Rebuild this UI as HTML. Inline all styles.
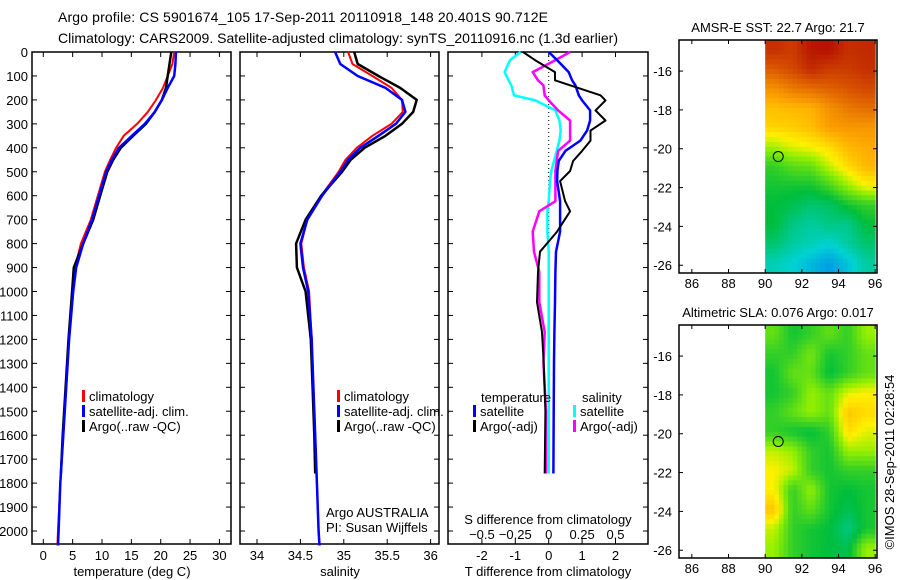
<!DOCTYPE html>
<html><head><meta charset="utf-8"><style>
html,body{margin:0;padding:0;background:#fff;}
svg{display:block;font-family:"Liberation Sans",sans-serif;}
</style></head><body>
<svg id="c" width="900" height="580" xmlns="http://www.w3.org/2000/svg"></svg>
<script>
// ---- data ----
const depths=[0,50,100,150,200,250,300,350,400,450,500,600,700,800,900,1000,1200,1400,1600,1800,2000,2060];
const tempClim=[22.3,22.0,21.2,20.4,19.2,17.8,16.0,13.7,12.4,11.4,10.5,9.3,8.1,6.4,5.4,5.1,4.4,3.9,3.4,2.9,2.5,2.4];
const tempSat=[22.6,22.5,22.3,21.2,20.2,19.0,17.3,15.1,12.9,11.7,10.7,9.5,8.3,6.8,5.6,5.1,4.4,3.9,3.4,2.9,2.6,2.5];
const argoDepths=[0,50,100,150,200,250,300,350,400,450,500,600,700,800,900,1000,1200,1400,1600,1760];
const tempArgo=[21.8,21.5,21.2,20.9,20.2,19.0,17.5,15.3,13.2,11.9,10.9,9.7,8.5,6.8,5.2,4.9,4.3,3.8,3.3,3.0];
const salClim=[35.05,35.1,35.33,35.55,35.67,35.68,35.55,35.33,35.15,35.02,34.94,34.74,34.58,34.51,34.54,34.6,34.63,34.65,34.67,34.69,34.71,34.72];
const salSat=[34.9,34.96,35.16,35.48,35.67,35.71,35.6,35.4,35.19,35.05,34.96,34.75,34.58,34.5,34.53,34.59,34.63,34.65,34.67,34.69,34.71,34.72];
const salArgo=[35.12,35.16,35.4,35.65,35.84,35.8,35.67,35.48,35.24,35.08,34.98,34.74,34.56,34.45,34.46,34.56,34.62,34.64,34.66,34.67];
const diffDepths=[0,34,84,118,139,181,202,244,286,328,370,413,455,497,539,623,665,750,834,918,1044,1170,1297,1500,1760];
const dTsat=[0,0.25,0.6,0.7,0.8,0.9,1.0,1.24,1.24,1.15,0.95,0.5,0.3,0.26,0.25,0.34,0.34,0.34,0.22,0.2,0.19,0.17,0.16,0.15,0.14];
const dTargo=[-0.77,-0.41,0.19,0.19,0.64,1.55,1.7,1.4,1.7,1.25,1.25,1.0,0.73,0.64,0.34,0.49,0.64,0.25,-0.26,-0.32,-0.35,-0.2,-0.15,-0.1,-0.12];
const dSsat=[-0.21,-0.29,-0.33,-0.3,-0.28,-0.26,-0.1,0.05,0.08,0.09,0.08,0.06,0.04,0.02,0.01,0,-0.01,-0.01,0,0,0,0,0,0,0];
const dSargo=[0.16,0.05,-0.12,-0.08,-0.04,-0.03,0,0.07,0.16,0.16,0.16,0.07,0.06,0.05,0.05,0.05,-0.07,-0.12,-0.11,-0.07,-0.07,-0.03,-0.04,-0.02,-0.02];
const depthTicks=[0,100,200,300,400,500,600,700,800,900,1000,1100,1200,1300,1400,1500,1600,1700,1800,1900,2000];
const tempTicks=[0,5,10,15,20,25,30];
const salTicks=[34,34.5,35,35.5,36];
const dTTicks=[-2,-1,0,1,2];
const dSTicks=[-0.5,-0.25,0,0.25,0.5];
const dSTickLabels=["\u22120.5","\u22120.25","0","0.25","0.5"];
const lonTicks=[86,88,90,92,94,96];
const latTicks=[-16,-18,-20,-22,-24,-26];
// map grids: rows from north (-14.4) southward, 1 deg cells, cols lon 90..96
const sstGrid=[
[0.92,0.9,0.96,0.97,0.92,0.93],
[0.85,0.88,0.93,0.9,0.9,0.92],
[0.76,0.8,0.82,0.84,0.86,0.88],
[0.69,0.7,0.71,0.76,0.8,0.82],
[0.66,0.67,0.69,0.74,0.75,0.75],
[0.56,0.6,0.62,0.65,0.7,0.72],
[0.45,0.49,0.5,0.58,0.65,0.7],
[0.42,0.42,0.42,0.47,0.55,0.62],
[0.4,0.38,0.35,0.36,0.42,0.45],
[0.4,0.33,0.3,0.33,0.32,0.4],
[0.35,0.3,0.28,0.25,0.3,0.35],
[0.28,0.25,0.2,0.15,0.22,0.3]];
const slaGrid=[
[0.5,0.42,0.45,0.5,0.45,0.55],
[0.45,0.45,0.52,0.42,0.45,0.5],
[0.42,0.5,0.5,0.4,0.45,0.5],
[0.42,0.45,0.55,0.5,0.6,0.62],
[0.45,0.5,0.55,0.5,0.68,0.65],
[0.45,0.42,0.4,0.45,0.65,0.6],
[0.58,0.55,0.45,0.42,0.55,0.55],
[0.62,0.58,0.45,0.42,0.45,0.45],
[0.62,0.45,0.55,0.42,0.4,0.42],
[0.68,0.45,0.5,0.42,0.38,0.42],
[0.58,0.45,0.42,0.4,0.33,0.42],
[0.55,0.45,0.42,0.4,0.38,0.55]];
const argoLon=90.712, argoLat=-20.401;

// ---- helpers ----
const NS="http://www.w3.org/2000/svg", svg=document.getElementById('c');
function el(t,a,p){const e=document.createElementNS(NS,t);for(const k in a)e.setAttribute(k,a[k]);(p||svg).appendChild(e);return e;}
function txt(x,y,s,anchor,size,p){const e=el('text',{x:x,y:y,'font-size':size||13,'text-anchor':anchor||'start',fill:'#000'},p);e.textContent=s;return e;}
const Y=d=>52+d*(479/2000);
const xT=v=>43.3+v*5.87;
const xS=v=>257+(v-34)*86.8;
const xDT=v=>548.7+v*33.4;
const xDS=v=>548.7+v*133.6;
const PT=52,PB=544;

function panel(name,x0,x1,showY){
  const g=el('g',{});
  
  
  el('rect',{x:x0,y:PT,width:x1-x0,height:PB-PT,fill:'none',stroke:'#000','stroke-width':1.5},g);
  depthTicks.forEach(d=>{
    el('line',{x1:x0,x2:x0+5,y1:Y(d),y2:Y(d),stroke:'#000'},g);
    el('line',{x1:x1-5,x2:x1,y1:Y(d),y2:Y(d),stroke:'#000'},g);
    if(showY){const t=txt(28,Y(d)+5,String(d),'end',13,g);}
  });
  return g;
}
function xticks(g,ticks,fx,labels,ly){
  ticks.forEach((v,i)=>{
    const x=fx(v);
    el('line',{x1:x,x2:x,y1:PT,y2:PT+5,stroke:'#000'},g);
    el('line',{x1:x,x2:x,y1:PB-5,y2:PB,stroke:'#000'},g);
    if(labels){const t=txt(x,ly,labels[i],'middle',13,g);}
  });
}
function line(g,ds,vs,fx,color,w,name){
  const pts=vs.map((v,i)=>fx(v).toFixed(1)+','+Y(ds[i]).toFixed(1)).join(' ');
  const p=el('polyline',{points:pts,fill:'none',stroke:color,'stroke-width':w,'stroke-linejoin':'round'},g);
  
  
}
function legendItem(g,x,y,color,label,name){
  el('rect',{x:x,y:y-11,width:3,height:12,fill:color},g);
  const t=txt(x+7,y,label,'start',13,g);
  
  
}

// titles
const t1=txt(58,22,"Argo profile: CS 5901674_105 17-Sep-2011 20110918_148 20.401S 90.712E",'start',14);
t1.setAttribute('textLength','490');


const t2=txt(58,43,"Climatology: CARS2009. Satellite-adjusted climatology: synTS_20110916.nc (1.3d earlier)",'start',14);
t2.setAttribute('textLength','560');



// panel 1 temperature
const g1=panel('temperature-panel',32,231,true);
xticks(g1,tempTicks,xT,tempTicks.map(String),560);
line(g1,depths,tempClim,xT,'#f00',2,'temp-climatology-line');
line(g1,argoDepths,tempArgo,xT,'#000',2.5,'temp-argo-line');
line(g1,depths,tempSat,xT,'#00f',2.5,'temp-satellite-line');
legendItem(g1,82,401,'#f00','climatology','legend-climatology');
legendItem(g1,82,416,'#00f','satellite-adj. clim.','legend-satellite');
legendItem(g1,82,431,'#000','Argo(..raw -QC)','legend-argo');
const xl1=txt(132,576,'temperature (deg C)','middle',13,g1);



// panel 2 salinity
const g2=panel('salinity-panel',240,439,false);
xticks(g2,salTicks,xS,salTicks.map(String),560);
line(g2,depths,salClim,xS,'#f00',2,'sal-climatology-line');
line(g2,argoDepths,salArgo,xS,'#000',2.5,'sal-argo-line');
line(g2,depths,salSat,xS,'#00f',2.5,'sal-satellite-line');
legendItem(g2,337,401,'#f00','climatology','legend-climatology');
legendItem(g2,337,416,'#00f','satellite-adj. clim.','legend-satellite');
legendItem(g2,337,431,'#000','Argo(..raw -QC)','legend-argo');
const a1=txt(326,517,'Argo AUSTRALIA','start',13,g2);

const a2=txt(326,532,'PI: Susan Wijffels','start',13,g2);

const xl2=txt(340,576,'salinity','middle',13,g2);



// panel 3 differences
const g3=panel('difference-panel',448,648,false);
xticks(g3,dTTicks,xDT,dTTicks.map(String),560);
el('line',{x1:xDT(0),x2:xDT(0),y1:PT,y2:Y(800),stroke:'#000','stroke-dasharray':'1,3'},g3);
dSTicks.forEach((v,i)=>{const t=txt(xDS(v),539,dSTickLabels[i],'middle',13,g3);});
line(g3,diffDepths,dSsat,xDS,'#0ff',2.5,'sdiff-satellite-line');
line(g3,diffDepths,dSargo,xDS,'#f0f',2.5,'sdiff-argo-line');
line(g3,diffDepths,dTsat,xDT,'#00f',2.5,'tdiff-satellite-line');
line(g3,diffDepths,dTargo,xDT,'#000',2,'tdiff-argo-line');
const lt=txt(481,402,'temperature','start',13,g3);
const ls=txt(582,402,'salinity','start',13,g3);
legendItem(g3,473,416,'#00f','satellite','legend-temp-satellite');
legendItem(g3,473,431,'#000','Argo(-adj)','legend-temp-argo');
legendItem(g3,573,416,'#0ff','satellite','legend-sal-satellite');
legendItem(g3,573,431,'#f0f','Argo(-adj)','legend-sal-argo');
const sdt=txt(548,524,'S difference from climatology','middle',13,g3);

const xl3=txt(548,576,'T difference from climatology','middle',13,g3);



// maps
const stops=[[0,[0,80,255]],[0.25,[0,210,210]],[0.4,[0,190,60]],[0.55,[150,240,0]],[0.62,[255,240,0]],[0.72,[255,170,0]],[0.85,[220,90,0]],[1,[170,0,0]]];
function cmap(v){for(let i=1;i<stops.length;i++){if(v<=stops[i][0]){const a=stops[i-1],b=stops[i],f=(v-a[0])/(b[0]-a[0]);const c=a[1].map((q,k)=>Math.round(q+(b[1][k]-q)*f));return 'rgb('+c+')';}}return 'rgb(170,0,0)';}
function sample(grid,fr,fc){
  const nr=grid.length,nc=grid[0].length;
  fr=Math.max(0,Math.min(nr-1,fr));fc=Math.max(0,Math.min(nc-1,fc));
  const r0=Math.floor(fr),c0=Math.floor(fc),r1=Math.min(nr-1,r0+1),c1=Math.min(nc-1,c0+1),a=fr-r0,b=fc-c0;
  return grid[r0][c0]*(1-a)*(1-b)+grid[r0][c1]*(1-a)*b+grid[r1][c0]*a*(1-b)+grid[r1][c1]*a*b;
}
function map(name,top,grid,title,tickY){
  const g=el('g',{});
  
  
  const L=679,R=877,B=top+233;
  const mx=lon=>L+(lon-85.3)*(R-L)/10.8;
  const my=lat=>top+(-14.4-lat)*(233/12);
  const sub=4;
  for(let r=0;r<grid.length*sub;r++)for(let c=0;c<grid[0].length*sub;c++){
    const v=sample(grid,(r+0.5)/sub-0.5,(c+0.5)/sub-0.5);
    const x0=mx(90+c/sub),x1=mx(90+(c+1)/sub),y0=my(-14.4-r/sub),y1=my(-14.4-(r+1)/sub);
    const cell=el('rect',{x:x0.toFixed(1),y:y0.toFixed(1),width:(x1-x0+0.5).toFixed(1),height:(y1-y0+0.5).toFixed(1),fill:cmap(v)},g);
    
    
  }
  el('rect',{x:L,y:top,width:R-L,height:B-top,fill:'none',stroke:'#000','stroke-width':1.5},g);
  lonTicks.forEach(lon=>{const x=mx(lon);el('line',{x1:x,x2:x,y1:top,y2:top+4,stroke:'#000'},g);el('line',{x1:x,x2:x,y1:B-4,y2:B,stroke:'#000'},g);
    const t=txt(x,tickY,String(lon),'middle',13,g);});
  latTicks.forEach(lat=>{const y=my(lat);el('line',{x1:L,x2:L+4,y1:y,y2:y,stroke:'#000'},g);el('line',{x1:R-4,x2:R,y1:y,y2:y,stroke:'#000'},g);
    const t=txt(672,y+5,String(lat),'end',13,g);});
  const m=el('circle',{cx:mx(argoLon),cy:my(argoLat),r:5,fill:'none',stroke:'#000','stroke-width':1},g);
  
  
  const tt=txt(778,top-8,title,'middle',13,g);
  
  
}
map('sst-map',40,sstGrid,'AMSR-E SST: 22.7 Argo: 21.7',288);
map('sla-map',325,slaGrid,'Altimetric SLA: 0.076 Argo: 0.017',573);

const cr=txt(0,0,'\u00a9IMOS 28-Sep-2011 02:28:54','middle',13);
cr.setAttribute('transform','translate(894,462) rotate(-90)');


</script>
</body></html>
